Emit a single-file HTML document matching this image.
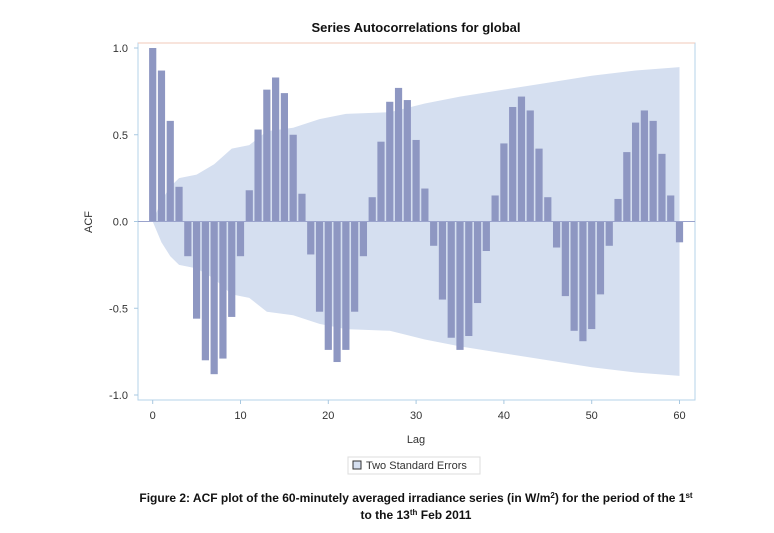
<!DOCTYPE html>
<html><head><meta charset="utf-8"><style>
body{margin:0;background:#fff;width:774px;height:533px;overflow:hidden;font-family:"Liberation Sans",sans-serif}
</style></head><body>
<svg id="chart" width="774" height="533" style="position:absolute;left:0;top:0">
<text x="416" y="32" text-anchor="middle" font-size="13" font-weight="bold" fill="#111">Series Autocorrelations for global</text>
<rect x="138" y="43" width="557" height="357" fill="#fff" stroke="#b5d3ea"/>
<line x1="138" y1="43" x2="695" y2="43" stroke="#f0c8b8"/>
<g id="band"></g><g id="bars"></g><g id="axes"></g>
<text transform="translate(92,222) rotate(-90)" text-anchor="middle" font-size="11" fill="#333">ACF</text>
<text x="416" y="443" text-anchor="middle" font-size="11" fill="#333">Lag</text>
<g>
<rect x="348" y="457" width="132" height="17" fill="#fff" stroke="#ddd"/>
<rect x="353" y="461" width="8" height="8" fill="#d5dff0" stroke="#333"/>
<text x="366" y="469" font-size="11" fill="#333">Two Standard Errors</text>
</g>
<text x="416" y="502" text-anchor="middle" font-size="12" font-weight="bold" fill="#111">Figure 2: ACF plot of the 60-minutely averaged irradiance series (in W/m<tspan font-size="8" dy="-4">2</tspan><tspan dy="4">) for the period of the 1</tspan><tspan font-size="8" dy="-4">st</tspan></text>
<text x="416" y="519" text-anchor="middle" font-size="12" font-weight="bold" fill="#111">to the 13<tspan font-size="8" dy="-4">th</tspan><tspan dy="4"> Feb 2011</tspan></text>
</svg>
<script>
const acf=[1.0,0.87,0.58,0.20,-0.20,-0.56,-0.80,-0.88,-0.79,-0.55,-0.20,0.18,0.53,0.76,0.83,0.74,0.50,0.16,-0.19,-0.52,-0.74,-0.81,-0.74,-0.52,-0.20,0.14,0.46,0.69,0.77,0.70,0.47,0.19,-0.14,-0.45,-0.67,-0.74,-0.66,-0.47,-0.17,0.15,0.45,0.66,0.72,0.64,0.42,0.14,-0.15,-0.43,-0.63,-0.69,-0.62,-0.42,-0.14,0.13,0.40,0.57,0.64,0.58,0.39,0.15,-0.12];
const seLags=[0,1,2,3,5,7,9,11,13,16,19,22,27,31,35,40,45,50,55,60];
const seVals=[0,0.12,0.2,0.25,0.27,0.33,0.42,0.44,0.52,0.54,0.59,0.62,0.63,0.68,0.72,0.76,0.80,0.84,0.87,0.89];
const yTicks=[1.0,0.5,0.0,-0.5,-1.0];
const xTicks=[0,10,20,30,40,50,60];
const NS='http://www.w3.org/2000/svg';
const X=l=>152.7+l*8.78, Y=v=>221.5-v*173.5;
function mk(t,a,p){const e=document.createElementNS(NS,t);for(const k in a)e.setAttribute(k,a[k]);p.appendChild(e);return e;}
let up=seLags.map((l,i)=>X(l)+','+Y(seVals[i])), lo=seLags.map((l,i)=>X(l)+','+Y(-seVals[i])).reverse();
const band=mk('polygon',{points:up.concat(lo).join(' '),fill:'#d5dff0'},document.getElementById('band'));


const bg=document.getElementById('bars');
acf.forEach((v,i)=>{const y0=Y(0),y1=Y(v);
const r=mk('rect',{x:X(i)-3.6,y:Math.min(y0,y1),width:7.2,height:Math.abs(y1-y0),fill:'#8e97c2'},bg);

});
const ax=document.getElementById('axes');
mk('line',{x1:138,y1:Y(0),x2:695,y2:Y(0),stroke:'#9aa3cc'},ax);
yTicks.forEach(t=>{mk('line',{x1:134,y1:Y(t),x2:138,y2:Y(t),stroke:'#a8c8e0'},ax);
const tx=mk('text',{x:128,y:Y(t)+4,'text-anchor':'end','font-size':11,fill:'#333'},ax);tx.textContent=t.toFixed(1);

});
xTicks.forEach(t=>{mk('line',{x1:X(t),y1:400,x2:X(t),y2:404,stroke:'#a8c8e0'},ax);
const tx=mk('text',{x:X(t),y:419,'text-anchor':'middle','font-size':11,fill:'#333'},ax);tx.textContent=t;

});
</script>
</body></html>
